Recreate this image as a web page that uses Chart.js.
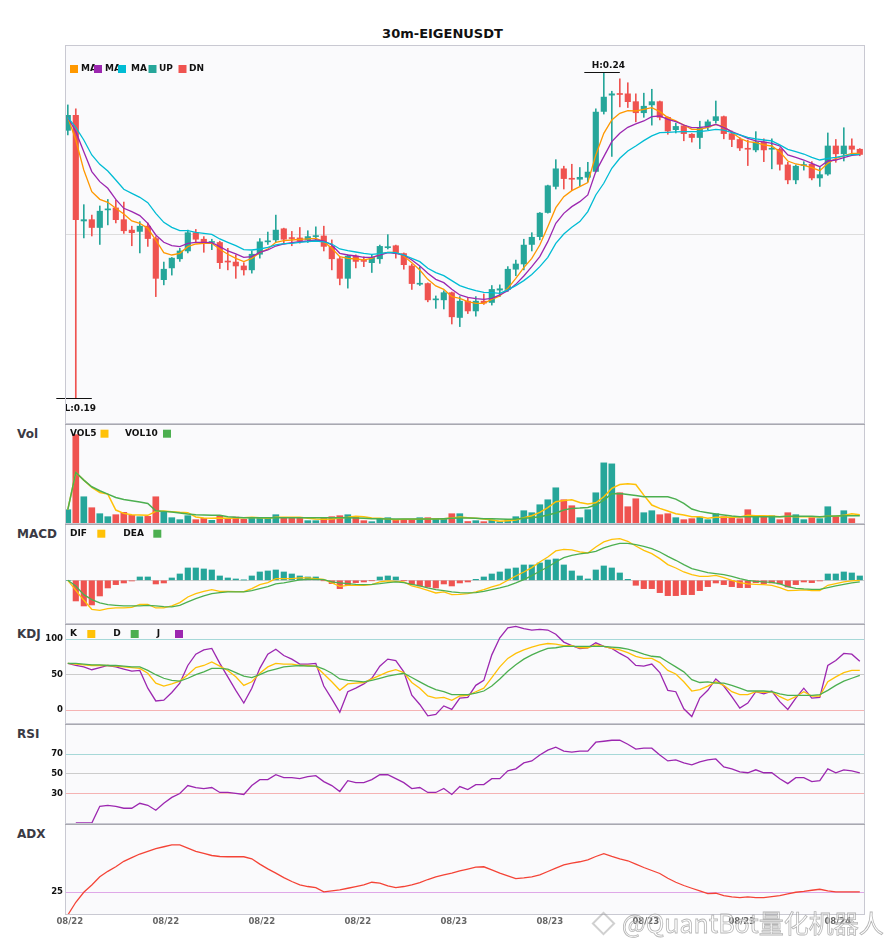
<!DOCTYPE html>
<html>
<head>
<meta charset="utf-8">
<script src="https://cdn.jsdelivr.net/npm/chart.js@4.4.1/dist/chart.umd.min.js"></script>
<style>
  body { margin: 0; background: #fff; width: 885px; height: 950px; position: relative; overflow: hidden; font-family: 'DejaVu Sans', sans-serif; }
  canvas { position: absolute; left: 0; }
  #title { position: absolute; top: 26px; left: 0; width: 885px; text-align: center; font-weight: bold; font-size: 13px; line-height: 16px; color: #111; }
  .lbl { position: absolute; left: 17px; font-weight: bold; font-size: 12px; line-height: 14px; color: #3a3a44; }
  #wm { position: absolute; left: 622px; top: 908px; font-family: 'Noto Sans CJK SC', sans-serif; font-size: 25px; line-height: 28px; white-space: nowrap;
        color: rgba(255,255,255,0.55); -webkit-text-stroke: 0.8px rgba(120,120,120,0.55); z-index: 5; }
  #logo { position: absolute; left: 595px; top: 915px; width: 13px; height: 13px; transform: rotate(45deg); border: 2px solid rgba(150,150,150,0.45); z-index: 5; }
</style>
</head>
<body>
<div id="title">30m-EIGENUSDT</div>
<div class="lbl" style="top:427px">Vol</div>
<div class="lbl" style="top:527px">MACD</div>
<div class="lbl" style="top:627px">KDJ</div>
<div class="lbl" style="top:727px">RSI</div>
<div class="lbl" style="top:827px">ADX</div>
<canvas id="cMain" width="885" height="424" style="top:0px"></canvas>
<canvas id="cVol" width="885" height="100" style="top:424px"></canvas>
<canvas id="cMacd" width="885" height="100" style="top:524px"></canvas>
<canvas id="cKdj" width="885" height="100" style="top:624px"></canvas>
<canvas id="cRsi" width="885" height="100" style="top:724px"></canvas>
<canvas id="cAdx" width="885" height="111" style="top:824px"></canvas>
<div id="logo"></div>
<div id="wm">@QuantBot量化机器人</div>
<script>
// 30m candles, EIGENUSDT
const opens = [0.2311,0.2334,0.2172,0.2174,0.2162,0.2189,0.2192,0.2174,0.2158,0.2156,
  0.2164,0.2145,0.2082,0.2100,0.2114,0.2126,0.2154,0.2144,0.2139,0.2139,
  0.2110,0.2109,0.2103,0.2097,0.2121,0.2140,0.2143,0.2160,0.2146,0.2146,
  0.2143,0.2148,0.2149,0.2133,0.2114,0.2084,0.2118,0.2111,0.2108,0.2114,
  0.2131,0.2134,0.2122,0.2103,0.2075,0.2076,0.2051,0.2051,0.2062,0.2024,
  0.2049,0.2034,0.2049,0.2047,0.2066,0.2067,0.2098,0.2106,0.2136,0.2148,
  0.2185,0.2225,0.2252,0.2237,0.2236,0.2239,0.2248,0.2340,0.2365,0.2367,
  0.2367,0.2355,0.2338,0.2350,0.2355,0.2331,0.2312,0.2318,0.2305,0.2300,
  0.2316,0.2326,0.2332,0.2306,0.2297,0.2283,0.2281,0.2293,0.2282,0.2282,
  0.2258,0.2235,0.2257,0.2259,0.2238,0.2244,0.2287,0.2275,0.2287,0.2282];
const highs = [0.2350,0.2344,0.2197,0.2181,0.2195,0.2205,0.2204,0.2201,0.2164,0.2171,
  0.2169,0.2148,0.2109,0.2116,0.2130,0.2158,0.2159,0.2148,0.2144,0.2141,
  0.2130,0.2120,0.2108,0.2126,0.2145,0.2155,0.2181,0.2161,0.2156,0.2162,
  0.2157,0.2163,0.2164,0.2143,0.2117,0.2120,0.2120,0.2117,0.2120,0.2135,
  0.2151,0.2135,0.2123,0.2106,0.2102,0.2077,0.2057,0.2065,0.2063,0.2056,
  0.2055,0.2056,0.2060,0.2073,0.2074,0.2102,0.2112,0.2144,0.2154,0.2185,
  0.2227,0.2266,0.2256,0.2259,0.2254,0.2262,0.2344,0.2400,0.2371,0.2390,
  0.2384,0.2367,0.2368,0.2374,0.2356,0.2332,0.2322,0.2319,0.2306,0.2325,
  0.2327,0.2356,0.2333,0.2310,0.2300,0.2296,0.2309,0.2298,0.2298,0.2284,
  0.2262,0.2258,0.2263,0.2263,0.2254,0.2307,0.2297,0.2315,0.2298,0.2283];
const lows = [0.2304,0.1900,0.2146,0.2149,0.2136,0.2166,0.2169,0.2153,0.2134,0.2123,
  0.2133,0.2056,0.2074,0.2089,0.2110,0.2123,0.2140,0.2124,0.2128,0.2099,
  0.2097,0.2084,0.2089,0.2092,0.2115,0.2136,0.2140,0.2137,0.2134,0.2138,
  0.2139,0.2141,0.2126,0.2097,0.2074,0.2069,0.2100,0.2102,0.2093,0.2107,
  0.2129,0.2115,0.2098,0.2067,0.2073,0.2048,0.2038,0.2037,0.2014,0.2010,
  0.2030,0.2026,0.2044,0.2043,0.2056,0.2064,0.2088,0.2097,0.2126,0.2143,
  0.2184,0.2221,0.2221,0.2219,0.2226,0.2232,0.2247,0.2336,0.2271,0.2347,
  0.2346,0.2324,0.2331,0.2319,0.2327,0.2305,0.2307,0.2295,0.2293,0.2283,
  0.2312,0.2322,0.2298,0.2286,0.2280,0.2257,0.2278,0.2263,0.2252,0.2250,
  0.2229,0.2229,0.2250,0.2235,0.2225,0.2242,0.2262,0.2264,0.2273,0.2272];
const closes = [0.2334,0.2174,0.2174,0.2162,0.2187,0.2190,0.2174,0.2157,0.2154,0.2164,
  0.2145,0.2084,0.2098,0.2115,0.2126,0.2154,0.2144,0.2140,0.2140,0.2108,
  0.2109,0.2103,0.2097,0.2121,0.2140,0.2141,0.2158,0.2144,0.2145,0.2141,
  0.2148,0.2149,0.2133,0.2114,0.2084,0.2118,0.2110,0.2110,0.2116,0.2133,
  0.2132,0.2122,0.2105,0.2076,0.2076,0.2051,0.2052,0.2062,0.2025,0.2049,
  0.2034,0.2049,0.2046,0.2067,0.2068,0.2098,0.2106,0.2135,0.2147,0.2184,
  0.2226,0.2252,0.2237,0.2236,0.2239,0.2247,0.2339,0.2362,0.2367,0.2366,
  0.2355,0.2338,0.2348,0.2355,0.2331,0.2310,0.2317,0.2306,0.2300,0.2315,
  0.2324,0.2332,0.2306,0.2297,0.2284,0.2282,0.2293,0.2281,0.2283,0.2259,
  0.2235,0.2256,0.2258,0.2238,0.2243,0.2287,0.2275,0.2287,0.2282,0.2274];

const maFast = [0.23310,0.22962,0.22502,0.22170,0.22052,0.22006,0.21914,0.21827,0.21720,0.21684,
  0.21607,0.21428,0.21234,0.21198,0.21224,0.21326,0.21367,0.21377,0.21377,0.21285,
  0.21209,0.21147,0.21096,0.21147,0.21234,0.21290,0.21393,0.21418,0.21428,0.21439,
  0.21444,0.21454,0.21403,0.21301,0.21173,0.21147,0.21137,0.21122,0.21147,0.21209,
  0.21239,0.21239,0.21183,0.21081,0.20968,0.20825,0.20723,0.20672,0.20559,0.20534,
  0.20483,0.20457,0.20457,0.20518,0.20570,0.20687,0.20841,0.21004,0.21147,0.21352,
  0.21633,0.21924,0.22093,0.22185,0.22246,0.22308,0.22732,0.23064,0.23269,0.23371,
  0.23412,0.23407,0.23432,0.23458,0.23397,0.23305,0.23254,0.23192,0.23126,0.23126,
  0.23156,0.23202,0.23167,0.23080,0.22988,0.22937,0.22921,0.22886,0.22870,0.22783,
  0.22640,0.22594,0.22574,0.22538,0.22492,0.22604,0.22681,0.22717,0.22758,0.22758];
const maMid = [0.23310,0.23090,0.22783,0.22477,0.22323,0.22221,0.22052,0.21914,0.21863,0.21802,
  0.21684,0.21505,0.21393,0.21341,0.21326,0.21377,0.21393,0.21393,0.21388,0.21326,
  0.21260,0.21214,0.21162,0.21173,0.21239,0.21275,0.21336,0.21367,0.21388,0.21403,
  0.21413,0.21428,0.21413,0.21352,0.21224,0.21198,0.21183,0.21162,0.21162,0.21198,
  0.21234,0.21224,0.21198,0.21122,0.21030,0.20917,0.20825,0.20774,0.20672,0.20585,
  0.20549,0.20529,0.20518,0.20534,0.20585,0.20651,0.20748,0.20876,0.21019,0.21173,
  0.21403,0.21684,0.21837,0.21940,0.22016,0.22119,0.22477,0.22707,0.22937,0.23064,
  0.23156,0.23208,0.23254,0.23320,0.23330,0.23279,0.23243,0.23192,0.23151,0.23156,
  0.23167,0.23202,0.23156,0.23090,0.23039,0.22988,0.22947,0.22932,0.22911,0.22870,
  0.22732,0.22696,0.22655,0.22604,0.22553,0.22640,0.22655,0.22691,0.22727,0.22737];
const maSlow = [0.23310,0.23156,0.22962,0.22732,0.22589,0.22487,0.22349,0.22206,0.22144,0.22083,
  0.22001,0.21837,0.21699,0.21623,0.21572,0.21572,0.21546,0.21531,0.21515,0.21444,
  0.21393,0.21341,0.21280,0.21275,0.21290,0.21316,0.21352,0.21372,0.21377,0.21393,
  0.21403,0.21413,0.21398,0.21367,0.21290,0.21265,0.21244,0.21224,0.21209,0.21219,
  0.21239,0.21234,0.21198,0.21147,0.21096,0.20994,0.20927,0.20881,0.20805,0.20728,
  0.20687,0.20651,0.20626,0.20621,0.20610,0.20662,0.20728,0.20805,0.20900,0.21019,
  0.21162,0.21377,0.21520,0.21623,0.21710,0.21863,0.22119,0.22298,0.22528,0.22681,
  0.22793,0.22870,0.22952,0.23024,0.23075,0.23080,0.23085,0.23090,0.23090,0.23090,
  0.23105,0.23126,0.23115,0.23075,0.23039,0.23003,0.22978,0.22962,0.22947,0.22886,
  0.22819,0.22783,0.22747,0.22696,0.22655,0.22681,0.22696,0.22717,0.22737,0.22742];

// volume in thousands
const volumes = [430,2690,820,490,310,220,280,350,260,220,
  230,820,370,190,130,250,130,170,110,260,
  170,210,140,190,170,190,280,190,170,170,
  100,100,170,220,250,280,230,100,70,150,
  190,130,130,130,190,190,150,150,310,310,
  75,100,70,120,70,130,220,400,340,580,
  730,1090,730,550,190,430,940,1840,1810,940,
  520,760,340,400,280,310,190,130,160,210,
  130,310,220,190,160,430,220,220,250,130,
  340,280,130,190,160,520,220,400,160,20];
const vol5 = [430,1550,1320,1100,950,900,420,320,280,270,
  260,380,390,370,350,340,210,180,170,180,
  170,180,190,200,190,170,200,200,200,200,
  170,150,140,150,180,200,230,220,180,170,
  150,130,140,140,150,150,160,160,180,210,
  190,170,150,120,80,100,120,190,250,350,
  490,670,710,730,650,600,640,820,1070,1190,
  1210,1190,870,570,470,390,310,270,220,220,
  170,200,200,200,210,260,250,250,240,220,
  230,220,220,220,210,230,230,260,310,280];
const vol10 = [430,1550,1320,1120,1000,900,800,740,700,660,
  620,400,380,360,330,300,280,270,260,260,
  220,200,190,190,190,190,190,190,190,190,
  190,190,190,190,190,190,180,170,160,160,
  150,150,150,150,150,150,150,160,170,180,
  180,170,160,160,150,140,150,170,190,220,
  270,330,420,470,480,500,570,720,910,920,
  890,860,820,820,820,820,750,620,450,380,
  340,300,270,240,220,220,220,220,220,220,
  230,230,230,230,220,230,240,250,250,250];

const macdHist = [0,-0.00062,-0.00077,-0.00074,-0.00047,-0.00023,-0.00013,-0.00008,-0.00002,0.00010,
  0.00010,-0.00011,-0.00008,0.00007,0.00019,0.00037,0.00037,0.00034,0.00031,0.00013,
  0.00007,0.00004,0.00001,0.00013,0.00025,0.00028,0.00031,0.00025,0.00019,0.00013,
  0.00010,0.00010,-0.00001,-0.00010,-0.00025,-0.00013,-0.00007,-0.00005,-0.00001,0.00010,
  0.00013,0.00010,-0.00001,-0.00013,-0.00017,-0.00020,-0.00023,-0.00011,-0.00017,-0.00008,
  -0.00005,0.00003,0.00010,0.00019,0.00025,0.00034,0.00037,0.00046,0.00046,0.00052,
  0.00061,0.00064,0.00046,0.00028,0.00013,0.00004,0.00031,0.00043,0.00037,0.00022,
  0.00003,-0.00015,-0.00025,-0.00025,-0.00037,-0.00046,-0.00046,-0.00043,-0.00043,-0.00031,
  -0.00019,-0.00008,-0.00013,-0.00019,-0.00022,-0.00022,-0.00007,-0.00010,-0.00008,-0.00011,
  -0.00020,-0.00013,-0.00005,-0.00007,-0.00002,0.00019,0.00019,0.00025,0.00022,0.00013];
const dif = [0,-0.00030,-0.00060,-0.00087,-0.00090,-0.00085,-0.00083,-0.00083,-0.00081,-0.00072,
  -0.00072,-0.00083,-0.00083,-0.00077,-0.00067,-0.00050,-0.00040,-0.00033,-0.00028,-0.00033,
  -0.00033,-0.00034,-0.00034,-0.00025,-0.00013,-0.00007,0.00005,0.00005,0.00005,0.00007,
  0.00007,0.00005,0.00003,-0.00008,-0.00018,-0.00015,-0.00015,-0.00015,-0.00013,-0.00005,
  -0.00002,-0.00003,-0.00005,-0.00017,-0.00023,-0.00030,-0.00038,-0.00035,-0.00043,-0.00042,
  -0.00040,-0.00035,-0.00028,-0.00020,-0.00013,0.00000,0.00013,0.00025,0.00038,0.00055,
  0.00070,0.00088,0.00093,0.00091,0.00085,0.00082,0.00100,0.00115,0.00123,0.00125,
  0.00117,0.00103,0.00090,0.00080,0.00065,0.00047,0.00037,0.00025,0.00017,0.00012,
  0.00012,0.00015,0.00008,0.00000,-0.00007,-0.00011,-0.00012,-0.00013,-0.00015,-0.00022,
  -0.00031,-0.00030,-0.00029,-0.00031,-0.00031,-0.00015,-0.00010,-0.00005,-0.00002,0.00000];
const dea = [0,-0.00017,-0.00043,-0.00058,-0.00068,-0.00073,-0.00075,-0.00077,-0.00077,-0.00077,
  -0.00075,-0.00077,-0.00079,-0.00080,-0.00075,-0.00065,-0.00055,-0.00047,-0.00040,-0.00037,
  -0.00035,-0.00035,-0.00035,-0.00031,-0.00025,-0.00019,-0.00011,-0.00008,-0.00003,0.00001,
  0.00003,0.00003,0.00002,-0.00005,-0.00008,-0.00010,-0.00012,-0.00013,-0.00012,-0.00010,
  -0.00007,-0.00005,-0.00007,-0.00012,-0.00017,-0.00023,-0.00028,-0.00031,-0.00035,-0.00037,
  -0.00038,-0.00037,-0.00033,-0.00028,-0.00023,-0.00017,-0.00008,0.00002,0.00014,0.00027,
  0.00040,0.00055,0.00068,0.00075,0.00079,0.00082,0.00087,0.00097,0.00105,0.00111,
  0.00111,0.00107,0.00102,0.00095,0.00085,0.00072,0.00060,0.00047,0.00035,0.00029,
  0.00023,0.00020,0.00017,0.00012,0.00005,0.00000,-0.00003,-0.00005,-0.00006,-0.00011,
  -0.00019,-0.00024,-0.00026,-0.00027,-0.00027,-0.00022,-0.00017,-0.00012,-0.00008,-0.00005];

const kLine = [66,65,64,63,63,63,62,61,60,59, 52,38,34,37,41,50,60,63,68,62,
  56,47,35,40,52,61,66,65,65,63, 63,62,51,40,28,37,38,39,44,49,
  54,57,53,39,31,20,17,18,14,20, 21,26,31,46,61,73,80,85,89,92,
  94,93,91,91,88,88,92,90,87,85, 81,76,73,73,67,56,51,40,27,29,
  34,40,35,26,22,22,26,25,26,19, 14,19,26,20,20,40,47,53,56,56];
const dLine = [66,66,65,64,64,63,63,62,61,61, 56,50,45,42,41,45,50,54,59,59,
  58,53,48,46,50,55,58,61,62,63, 62,62,58,52,44,42,41,40,42,45,
  48,50,52,46,40,34,29,26,22,22, 22,24,27,34,44,55,64,72,78,83,
  87,88,90,90,90,90,90,90,89,88, 86,83,79,76,75,68,61,54,43,39,
  40,38,38,35,31,27,27,27,26,23, 21,21,21,21,22,28,35,41,45,49];
const jLine = [66,63,61,57,60,63,61,58,55,56, 31,13,14,25,38,63,79,85,87,66,
  47,28,10,31,59,79,86,77,72,65, 65,66,34,16,-3,26,31,37,45,62,
  72,70,54,21,8,-8,-6,6,1,17, 18,35,42,78,102,116,118,115,113,114,
  113,107,96,91,87,88,95,90,87,80, 74,63,62,65,53,28,26,2,-9,17,
  28,44,34,19,3,10,26,23,27,12, 1,17,31,17,18,63,70,80,79,69];

const rsi = [null,0,0,0,17,18,17,15,15,20, 18,13,20,26,30,38,36,35,36,31,
  31,30,29,38,44,44,49,46,46,45, 47,48,42,38,32,43,41,41,44,49,
  49,45,41,35,36,31,31,35,29,37, 34,39,39,45,45,53,55,61,63,69,
  74,77,73,72,73,73,82,83,84,84, 80,75,76,76,69,63,64,61,59,62,
  64,65,57,55,52,51,54,51,51,45, 40,46,46,42,43,55,51,54,53,51];
const adx = [0,14,25,33,42,48,53,59,63,67, 70,73,75,77,77,73.5,70,67.6,65.4,64.3,
  64,64,64,61.8,55.9,50.7,46,41,36.8,33, 31.3,30,25.4,26.5,27.6,29.4,31.3,33,36,35,
  32,30,31.3,33,35.7,39,42,44,46,48.5, 50.5,52.6,53,49.6,46,43,40,40.8,42,44,
  47.8,51.5,55,57,58.5,60.7,64.3,67.3,64.3,61.8, 59.6,55.9,52.2,48.9,45.6,40.4,36,32.4,29.4,26.5,
  23.5,23.9,21.3,19.9,19.1,19.9,19.1,19.1,20.2,21.3, 23.2,25,26,27.2,28.3,26.5,25.4,25.4,25.4,25.4];

const tickIdx = [0, 12, 24, 36, 48, 60, 72, 84, 96];
const tickLabels = ['08/22', '08/22', '08/22', '08/22', '08/23', '08/23', '08/23', '08/23', '08/24'];

// ---- styling ----
const UP = '#26a69a', DN = '#ef5350';
const X_MIN = -0.35, X_MAX = 99.65;
const PRICE_MIN = 0.18606, PRICE_MAX = 0.24419;

Chart.defaults.font.family = "'DejaVu Sans', sans-serif";

const idx = closes.map((_, i) => i);
const candleColors = idx.map((i) => (closes[i] >= opens[i] ? UP : DN));
const pts = (arr) => arr.map((v, i) => ({ x: i, y: v }));

function line(data, color, width) {
	return { type: 'line', data: pts(data), borderColor: color, borderWidth: width || 1.3, pointRadius: 0, tension: 0, order: 0 };
}

// background, frame and the little legend row of each panel
function panel(cfg) {
	return {
		id: 'panel',
		beforeDraw(chart) {
			const { ctx, chartArea: a } = chart;
			ctx.save();
			ctx.fillStyle = '#fafafc';
			ctx.fillRect(a.left, a.top, a.right - a.left, a.bottom - a.top);
			ctx.restore();
		},
		afterDraw(chart) {
			const { ctx, chartArea: a } = chart;
			ctx.save();
			ctx.lineWidth = 1;
			ctx.strokeStyle = '#c9c9d2';
			ctx.strokeRect(a.left + 0.5, a.top + 0.5, a.right - a.left - 1, a.bottom - a.top - 1);
			if (cfg.sep) {
				ctx.strokeStyle = '#a8a8b0';
				ctx.beginPath();
				ctx.moveTo(a.left, a.top + 0.5);
				ctx.lineTo(a.right, a.top + 0.5);
				ctx.stroke();
			}
			const y = a.top + cfg.legendY;
			ctx.font = "bold 9px 'DejaVu Sans'";
			ctx.textBaseline = 'middle';
			ctx.fillStyle = '#111';
			cfg.legend.forEach((it) => ctx.fillText(it.text, it.tx, y));
			cfg.legend.forEach((it) => {
				ctx.fillStyle = it.color;
				ctx.fillRect(it.bx, y - 4, 8, 8);
			});
			ctx.restore();
		},
	};
}

// H / L markers on the price panel
const hiLo = {
	id: 'hiLo',
	afterDatasetsDraw(chart) {
		const { ctx, scales } = chart;
		const hi = highs.indexOf(Math.max(...highs));
		const lo = lows.indexOf(Math.min(...lows));
		ctx.save();
		ctx.strokeStyle = '#111';
		ctx.fillStyle = '#111';
		ctx.lineWidth = 1.2;
		ctx.font = "bold 9px 'DejaVu Sans'";
		ctx.textAlign = 'center';
		[[hi, highs[hi], 'H:', -4.5], [lo, lows[lo], 'L:', 12]].forEach(([i, v, p, dy]) => {
			const x = scales.x.getPixelForValue(i);
			const y = Math.round(scales.y.getPixelForValue(v)) + 0.5;
			ctx.beginPath();
			ctx.moveTo(x - 19.5, y);
			ctx.lineTo(x + 16, y);
			ctx.stroke();
			ctx.fillText(p + v.toFixed(2), x + 4.5, y + dy);
		});
		ctx.restore();
	},
};

function xAxis(show) {
	return {
		type: 'linear', min: X_MIN, max: X_MAX, offset: false, display: show,
		afterFit: (a) => { a.height = show ? 20 : 0; a.paddingLeft = 0; a.paddingRight = 0; },
		afterBuildTicks: (a) => { a.ticks = tickIdx.map((v) => ({ value: v })); },
		grid: { display: false, drawTicks: false },
		border: { display: false },
		ticks: {
			autoSkip: false, maxRotation: 0, padding: 2, labelOffset: 2, color: '#666',
			font: { size: 8.5, weight: 'bold' },
			callback: (v, i) => tickLabels[i],
		},
	};
}

function yAxis(min, max, ticks, colors, labels) {
	return {
		min, max, position: 'left',
		afterFit: (a) => { a.width = 65; a.paddingTop = 0; a.paddingBottom = 0; },
		afterBuildTicks: (a) => { a.ticks = ticks.map((v) => ({ value: v })); },
		grid: { color: (c) => colors[c.index] || 'transparent', drawTicks: false, lineWidth: 1 },
		border: { display: false },
		ticks: { display: labels, padding: 2, color: '#111', font: { size: 8.5, weight: 'bold' }, callback: (v) => String(v) },
	};
}

function makeChart(id, datasets, y, extra) {
	const opts = extra || {};
	return new Chart(document.getElementById(id), {
		type: 'bar',
		data: { datasets },
		options: {
			responsive: false,
			animation: false,
			events: [],
			layout: { padding: { left: 0, right: 20, top: opts.top || 0, bottom: 0 } },
			plugins: { legend: { display: false }, tooltip: { enabled: false } },
			scales: { x: xAxis(!!opts.showX), y },
		},
		plugins: opts.plugins,
	});
}

// price panel
makeChart('cMain', [
	{ type: 'bar', data: idx.map((i) => ({ x: i, y: [lows[i], highs[i]] })), backgroundColor: candleColors, barThickness: 1, grouped: false, order: 3 },
	{ type: 'bar', data: idx.map((i) => ({ x: i, y: [opens[i], closes[i]] })), backgroundColor: candleColors, barThickness: 5.5, minBarLength: 1, grouped: false, order: 2 },
	line(maSlow, '#00bcd4'),
	line(maMid, '#9c27b0'),
	line(maFast, '#ff9800'),
], yAxis(PRICE_MIN, PRICE_MAX, [(PRICE_MIN + PRICE_MAX) / 2], ['#dddddd'], false), {
	top: 45,
	plugins: [hiLo, panel({ legendY: 24, legend: [
		{ text: 'MA', tx: 81, bx: 70, color: '#ff9800' },
		{ text: 'MA', tx: 105, bx: 94, color: '#9c27b0' },
		{ text: 'MA', tx: 131, bx: 118, color: '#00bcd4' },
		{ text: 'UP', tx: 159, bx: 148.5, color: UP },
		{ text: 'DN', tx: 189, bx: 178.5, color: DN },
	] })],
});

// volume
makeChart('cVol', [
	{ type: 'bar', data: pts(volumes), backgroundColor: candleColors, barThickness: 6, grouped: false, order: 2 },
	line(vol10, '#4caf50', 1.5),
	line(vol5, '#ffc107', 1.5),
], yAxis(0, 3010, [], [], false), {
	plugins: [panel({ sep: true, legendY: 9.7, legend: [
		{ text: 'VOL5', tx: 70, bx: 100.5, color: '#ffc107' },
		{ text: 'VOL10', tx: 125, bx: 163, color: '#4caf50' },
	] })],
});

// MACD
makeChart('cMacd', [
	{ type: 'bar', data: pts(macdHist), backgroundColor: macdHist.map((v) => (v >= 0 ? UP : DN)), barThickness: 5.5, grouped: false, order: 2 },
	line(dea, '#4caf50'),
	line(dif, '#ffc107'),
], yAxis(-0.001311, 0.001689, [0], ['#cccccc'], false), {
	plugins: [panel({ sep: true, legendY: 9.7, legend: [
		{ text: 'DIF', tx: 70, bx: 97.3, color: '#ffc107' },
		{ text: 'DEA', tx: 123.3, bx: 153.3, color: '#4caf50' },
	] })],
});

// KDJ
makeChart('cKdj', [
	line(dLine, '#4caf50'),
	line(kLine, '#ffc107'),
	line(jLine, '#9c27b0'),
], yAxis(-19.5, 121.5, [0, 50, 100], ['#f5b3b3', '#cccccc', '#a6d8d8'], true), {
	plugins: [panel({ sep: true, legendY: 10, legend: [
		{ text: 'K', tx: 70, bx: 87.3, color: '#ffc107' },
		{ text: 'D', tx: 113.3, bx: 130.7, color: '#4caf50' },
		{ text: 'J', tx: 156.7, bx: 175, color: '#9c27b0' },
	] })],
});

// RSI
makeChart('cRsi', [
	line(rsi, '#9c27b0'),
], yAxis(-1, 100.5, [30, 50, 70], ['#f5b3b3', '#cccccc', '#a6d8d8'], true), {
	plugins: [panel({ sep: true, legendY: 10, legend: [] })],
});

// ADX
makeChart('cAdx', [
	line(adx, '#f44336'),
], yAxis(0, 100, [25], ['#dfa8e8'], true), {
	showX: true,
	plugins: [panel({ sep: true, legendY: 10, legend: [] })],
});
</script>
</body>
</html>
